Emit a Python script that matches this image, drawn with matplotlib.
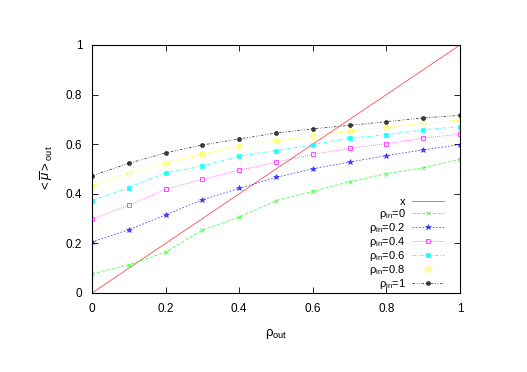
import matplotlib
matplotlib.use("Agg")
import matplotlib.pyplot as plt
import numpy as np

plt.rcParams['font.family'] = ['Liberation Sans', 'DejaVu Sans']
plt.rcParams['mathtext.fontset'] = 'custom'
plt.rcParams['mathtext.rm'] = 'Liberation Sans'
plt.rcParams['mathtext.it'] = 'Liberation Sans:italic'

# data
rho_out = [0, 0.1, 0.2, 0.3, 0.4, 0.5, 0.6, 0.7, 0.8, 0.9, 1.0]
mu_in0 = [0.077, 0.113, 0.165, 0.254, 0.306, 0.372, 0.41, 0.449, 0.481, 0.505, 0.539]
mu_in02 = [0.206, 0.255, 0.315, 0.376, 0.422, 0.466, 0.501, 0.528, 0.554, 0.577, 0.598]
mu_in04 = [0.298, 0.353, 0.418, 0.458, 0.495, 0.527, 0.559, 0.583, 0.602, 0.624, 0.641]
mu_in06 = [0.372, 0.425, 0.485, 0.511, 0.552, 0.574, 0.598, 0.624, 0.638, 0.658, 0.671]
mu_in08 = [0.433, 0.483, 0.524, 0.56, 0.593, 0.614, 0.632, 0.653, 0.668, 0.684, 0.698]
mu_in1 = [0.473, 0.523, 0.565, 0.597, 0.621, 0.645, 0.662, 0.676, 0.691, 0.706, 0.716]
diag = [0, 1]

fig = plt.figure(figsize=(5.27, 3.72), dpi=100)
ax = fig.add_axes([0.1746, 0.2124, 0.6983, 0.6667])

lw = 0.6
a = 0.7
ax.plot(diag, diag, color='#ff0000', lw=lw, alpha=a, label='x')
ax.plot(rho_out, mu_in0, color='#00ff00', lw=lw, alpha=a, ls=(0, (4, 2)), marker='x',
        ms=3.5, mew=0.6, label='ρ$_{\\rm in}$=0')
ax.plot(rho_out, mu_in02, color='#0000ff', lw=lw, alpha=a, ls=(0, (2, 2)), marker='*',
        ms=4, mew=0.4, label='ρ$_{\\rm in}$=0.2')
ax.plot(rho_out, mu_in04, color='#ff00ff', lw=lw, alpha=a, ls=(0, (1, 1.5)), marker='s',
        ms=3.5, mew=0.7, mfc='none', label='ρ$_{\\rm in}$=0.4')
ax.plot(rho_out, mu_in06, color='#00ffff', lw=lw, alpha=0.85, ls=(0, (4, 2, 1, 2)), marker='s',
        ms=3.5, mew=0.5, label='ρ$_{\\rm in}$=0.6')
ax.plot(rho_out, mu_in08, color='#ffff00', lw=lw, alpha=0.85, ls=(0, (1, 1.5)), marker='o',
        ms=3.5, mew=0.7, mfc='none', label='ρ$_{\\rm in}$=0.8')
ax.plot(rho_out, mu_in1, color='black', lw=lw, alpha=0.75, ls=(0, (3, 2, 1, 2, 1, 2)), marker='o',
        ms=3, mew=0.4, label='ρ$_{\\rm in}$=1')

ax.set_xlim(0, 1)
ax.set_ylim(0, 1)
ticks = [0, 0.2, 0.4, 0.6, 0.8, 1]
labels = ['0', '0.2', '0.4', '0.6', '0.8', '1']
ax.set_xticks(ticks)
ax.set_xticklabels(labels)
ax.set_yticks(ticks)
ax.set_yticklabels(labels)
ax.tick_params(direction='in', top=True, right=True, labelsize=8.5, length=4,
               width=0.6, pad=7)
for s in ax.spines.values():
    s.set_linewidth(0.8)

ax.set_xlabel('ρ$_{\\rm out}$', fontsize=9.5, labelpad=9)
ax.set_ylabel('$<\\overline{\\mu}>_{\\rm out}$', fontsize=9.5, labelpad=8)

ax.legend(loc='lower right', bbox_to_anchor=(0.9565, 0.01), frameon=False,
          markerfirst=False, fontsize=8, handlelength=2.9, handletextpad=0.55,
          labelspacing=0.0, borderpad=0, borderaxespad=0)

fig.savefig('out.png', dpi=100)
